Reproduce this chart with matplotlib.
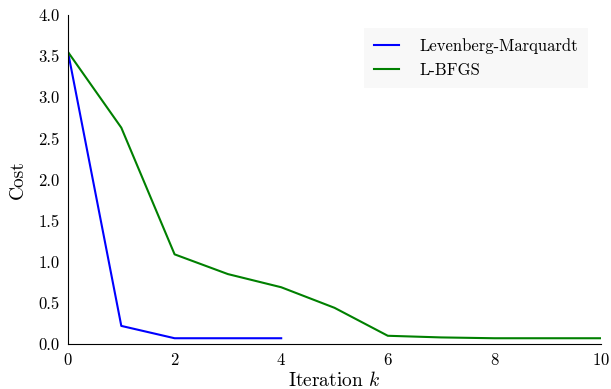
import numpy as np
import matplotlib
matplotlib.use("Agg")
import matplotlib.pyplot as plt

plt.rcParams['font.family'] = 'serif'
plt.rcParams['font.serif'] = ['cmr10']
plt.rcParams['mathtext.fontset'] = 'cm'
plt.rcParams['axes.formatter.use_mathtext'] = True

# data
lm_iter = [0, 1, 2, 3, 4]
lm_cost = [3.55, 0.22, 0.07, 0.07, 0.07]
lbfgs_iter = [0, 1, 2, 3, 4, 5, 6, 7, 8, 9, 10]
lbfgs_cost = [3.55, 2.63, 1.09, 0.85, 0.69, 0.44, 0.10, 0.08, 0.07, 0.07, 0.07]

fig = plt.figure(figsize=(6.11, 3.89), dpi=100)
ax = fig.add_axes([68/611, 1-344/389, 533/611, 329/389])

ax.plot(lm_iter, lm_cost, color='blue', lw=1.5, label='Levenberg-Marquardt')
ax.plot(lbfgs_iter, lbfgs_cost, color='green', lw=1.5, label='L-BFGS')

ax.set_xlim(0, 10)
ax.set_ylim(0, 4.0)
ax.set_xticks(np.arange(0, 11, 2))
ax.set_yticks(np.arange(0, 4.01, 0.5))
ax.set_yticklabels(['%.1f' % v for v in np.arange(0, 4.01, 0.5)])
ax.tick_params(length=0, labelsize=12, pad=6)
ax.spines['top'].set_visible(False)
ax.spines['right'].set_visible(False)
ax.set_xlabel('Iteration $k$', fontsize=14, labelpad=2)
ax.set_ylabel('Cost', fontsize=14, labelpad=8)

leg = ax.legend(loc='upper right', fontsize=12, frameon=True, fancybox=False,
                handlelength=1.5, handletextpad=1.2, borderpad=0.6,
                borderaxespad=0.8)
leg.get_frame().set_facecolor('#f7f7f7')
leg.get_frame().set_edgecolor('none')

fig.savefig('out.png', dpi=100)
